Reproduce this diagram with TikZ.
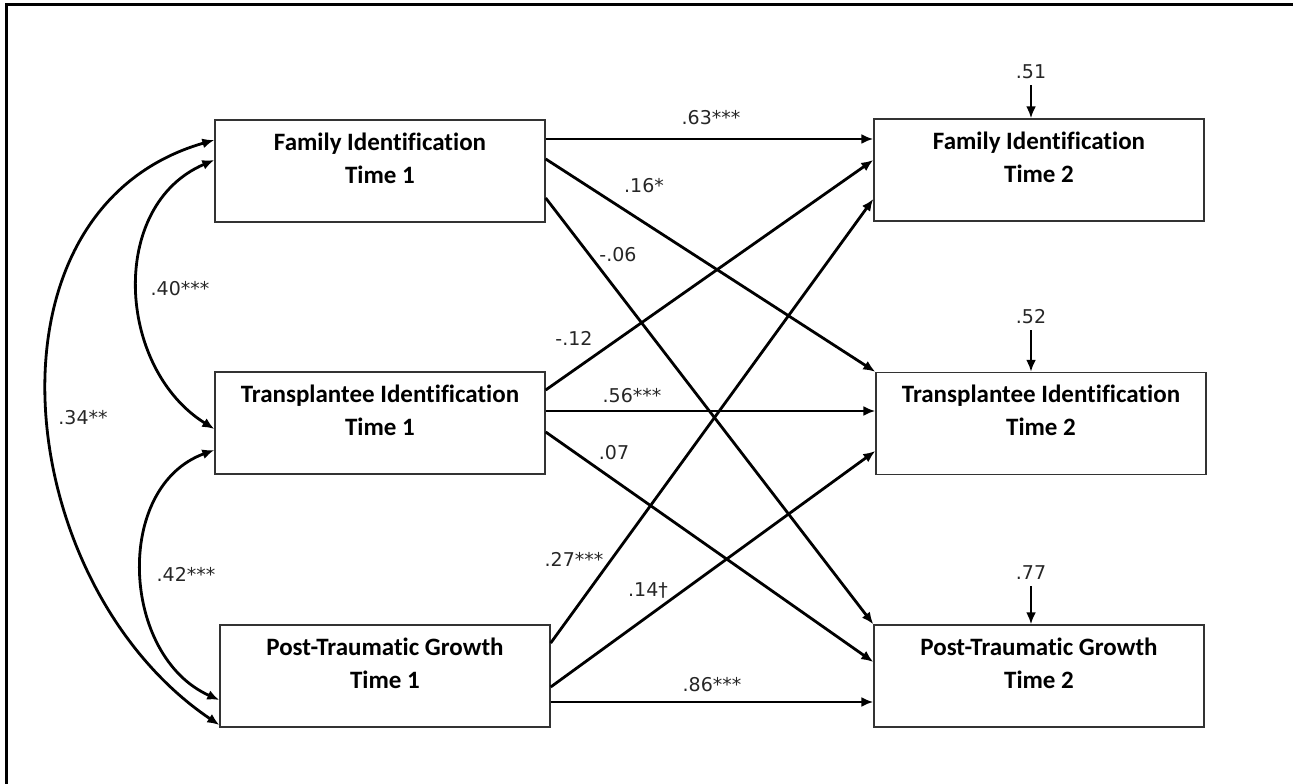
\documentclass[tikz,border=0pt]{standalone}
\usepackage{fontspec}
\setmainfont{Carlito}[Ligatures=NoCommon]
\newfontfamily\numfont{DejaVu Sans}
\usetikzlibrary{arrows.meta}

\begin{document}
\begin{tikzpicture}[x=1pt,y=1pt,
    var/.style={draw=black!80,line width=1.4pt,minimum width=330pt,minimum height=102pt,inner sep=0pt},
    varname/.style={anchor=north,align=center,inner sep=0pt,font=\fontsize{25}{33}\selectfont\bfseries},
    path/.style={line width=2.8pt,-{Latex[length=12pt,width=10pt]}},
    cov/.style={line width=2.8pt,looseness=1.1,{Latex[length=12pt,width=10pt]}-{Latex[length=12pt,width=10pt]}},
    coef/.style={font=\fontsize{19}{21}\selectfont\numfont,inner sep=1pt,text=black!85}]

    \useasboundingbox (0,0) rectangle (1293,784);
    \draw [line width=3pt] (6,0) -- (6,779) -- (1293,779); % frame

    % time 1 boxes
    \node [var] (f1) at (380,613) {};
    \node [var] (t1) at (380,361) {};
    \node [var] (p1) at (385,108) {};
    \node [varname] (f1n) at ([yshift=-13pt]f1.north) {Family Identification\\Time 1};
    \node [varname] (t1n) at ([yshift=-13pt]t1.north) {Transplantee Identification\\Time 1};
    \node [varname] (p1n) at ([yshift=-13pt]p1.north) {Post-Traumatic Growth\\Time 1};

    % time 2 boxes
    \node [var] (f2) at (1039,614) {};
    \node [var] (t2) at (1041,360.5) {};
    \node [var] (p2) at (1039,108) {};
    \node [varname] (f2n) at ([yshift=-13pt]f2.north) {Family Identification\\Time 2};
    \node [varname] (t2n) at ([yshift=-13pt]t2.north) {Transplantee Identification\\Time 2};
    \node [varname] (p2n) at ([yshift=-13pt]p2.north) {Post-Traumatic Growth\\Time 2};

    % residuals
    \node [coef] (r51) at (1031,712) {.51};
    \node [coef] (r52) at (1031,467) {.52};
    \node [coef] (r77) at (1031,211) {.77};
    \draw [path,shorten <=5pt] (r51.south) -- (r51.south |- f2.north);
    \draw [path,shorten <=5pt] (r52.south) -- (r52.south |- t2.north);
    \draw [path,shorten <=5pt] (r77.south) -- (r77.south |- p2.north);

    % paths from family
    \draw [path] ([yshift=32pt]f1.east) -- ([yshift=31pt]f2.west);
    \draw [path] ([yshift=12pt]f1.east) -- (t2.north west);
    \draw [path] ([yshift=-27pt]f1.east) -- (p2.north west);
    % paths from transplantee
    \draw [path] ([yshift=33pt]t1.east) -- ([yshift=10pt]f2.west);
    \draw [path] ([yshift=12pt]t1.east) -- ([yshift=12.5pt]t2.west);
    \draw [path] ([yshift=-9pt]t1.east) -- ([yshift=14pt]p2.west);
    % paths from growth
    \draw [path] ([yshift=33pt]p1.east) -- ([yshift=-29pt]f2.west);
    \draw [path] ([yshift=-11pt]p1.east) -- ([yshift=-27.5pt]t2.west);
    \draw [path] ([yshift=-26pt]p1.east) -- ([yshift=-26pt]p2.west);

    \node [coef] (b63) at (711,666) {.63***};
    \node [coef] (b16) at (644,598) {.16*};
    \node [coef] (b06) at (618,529) {-.06};
    \node [coef] (b12) at (574,446) {-.12};
    \node [coef] (b56) at (632,388) {.56***};
    \node [coef] (b07) at (614,331) {.07};
    \node [coef] (b27) at (574,225) {.27***};
    \node [coef] (b14) at (648,194) {.14†};
    \node [coef] (b86) at (712,99) {.86***};

    % correlations
    \draw [cov] ([yshift=11pt]f1.west) to [out=203,in=148] ([yshift=-6pt]t1.west);
    \draw [cov] ([yshift=-27pt]t1.west) to [out=200,in=156] ([yshift=-24pt]p1.west);
    \draw [cov] ([yshift=31pt]f1.west) to [out=196,in=146] ([yshift=-49pt]p1.west);

    \node [coef] (c40) at (180,495) {.40***};
    \node [coef] (c42) at (186,210) {.42***};
    \node [coef] (c34) at (83,366) {.34**};

\end{tikzpicture}
\end{document}
